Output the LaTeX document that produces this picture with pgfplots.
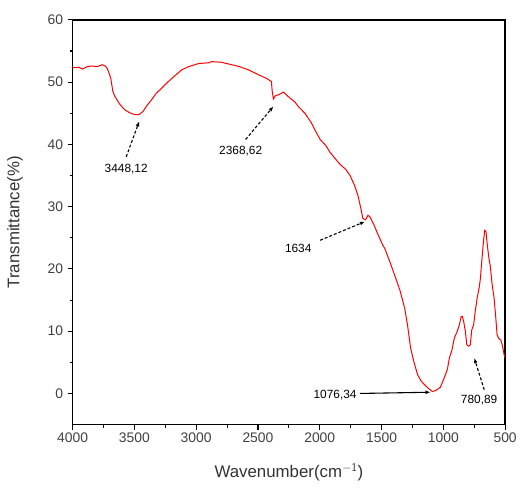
\documentclass[border=0pt]{standalone}
\usepackage{pgfplots}
\pgfplotsset{compat=1.18}
\usepackage{fontspec}
\setmainfont{Liberation Sans}
\usetikzlibrary{arrows.meta}

\pgfplotstableread{
x y
4000 52.3
3950 52.4
3920 52.1
3880 52.5
3850 52.6
3800 52.5
3760 52.8
3735 52.6
3720 52.2
3700 51.2
3690 50.5
3675 48.6
3660 47.8
3620 46.5
3580 45.6
3540 45.1
3500 44.8
3461 44.8
3430 45.3
3400 46.2
3360 47.2
3324 48.2
3280 49.0
3230 50.0
3180 50.9
3115 52.0
3060 52.5
2978 53.0
2900 53.1
2874 53.3
2800 53.2
2713 52.8
2650 52.5
2580 52.0
2496 51.2
2430 50.6
2391 50.1
2385 48.6
2375 47.3
2360 47.8
2330 48.0
2294 48.4
2250 47.6
2200 46.8
2174 46.1
2120 45.0
2069 43.5
2030 42.0
1997 40.8
1950 39.8
1916 38.7
1870 37.6
1836 36.8
1790 36.0
1755 35.0
1720 33.5
1691 31.8
1665 29.5
1651 28.1
1630 27.9
1610 28.6
1595 28.4
1560 27.0
1530 25.6
1490 23.8
1474 23.3
1430 21.0
1394 19.0
1350 16.5
1313 13.7
1290 11.0
1265 7.3
1240 5.2
1208 3.0
1180 2.0
1152 1.4
1120 0.8
1088 0.3
1060 0.5
1024 1.0
991 2.6
967 3.9
951 5.7
930 7.0
911 8.9
887 10.0
871 11.0
855 12.4
846 12.4
835 11.5
822 10.0
810 7.8
795 7.6
782 7.8
770 10.2
755 11.0
742 13.2
725 15.5
710 17.0
700 18.5
690 21.0
675 24.5
665 26.2
655 26.0
645 24.0
630 21.5
621 20.6
605 17.5
589 15.3
575 12.0
565 9.4
550 8.8
535 8.6
520 7.5
508 6.2
500 5.8
}\ftir

\begin{document}
\begin{tikzpicture}
\begin{axis}[
  scale only axis,
  width=435bp, height=407bp,
  x dir=reverse,
  xmin=500, xmax=4000,
  ymin=-5, ymax=60,
  xtick={500,1000,...,4000},
  ytick={0,10,...,60},
  minor x tick num=1,
  minor y tick num=1,
  tick align=outside,
  xtick pos=left, ytick pos=left,
  major tick length=5bp,
  minor tick length=3bp,
  axis line style={line width=1.3bp},
  every tick/.style={black, line width=1.1bp},
  /pgf/number format/1000 sep={},
  /pgf/number format/assume math mode=true,
  ticklabel style={font=\fontsize{14}{14}\selectfont, text=black!75},
  yticklabel style={xshift=-1bp},
  xlabel={Wavenumber(cm$^{\mathsf{-1}}$)},
  ylabel={Transmittance(\%)},
  label style={font=\fontsize{17}{17}\selectfont, text=black!80},
  xlabel style={at={(axis description cs:0.5,-0.118)}, anchor=center},
  ylabel style={at={(axis description cs:-0.133,0.5)}, anchor=center},
]
\addplot[red, line width=1bp] table[x=x, y=y] {\ftir};

\tikzset{ann/.style={font=\fontsize{12}{12}\selectfont, text=black},
         arr/.style={-{Latex[length=5bp,width=4bp]}, line width=1.1bp, black}}
\node[ann] at (axis cs:3566,36.0) {3448,12};
\draw[arr, densely dashed] (axis cs:3566,38.0) -- (axis cs:3461,43.7);
\node[ann] at (axis cs:2640,38.9) {2368,62};
\draw[arr, densely dashed] (axis cs:2600,40.8) -- (axis cs:2375,46.1);
\node[ann] at (axis cs:2174,23.3) {1634};
\draw[arr, densely dashed] (axis cs:1997,24.6) -- (axis cs:1635,27.6);
\node[ann] at (axis cs:1876,-0.2) {1076,34};
\draw[arr] (axis cs:1675,0) -- (axis cs:1104,0.2);
\node[ann] at (axis cs:710,-1.1) {780,89};
\draw[arr, densely dashed] (axis cs:669,0.6) -- (axis cs:750,5.7);
\end{axis}
\path (current axis.south west) ++(-73bp,-67bp) coordinate (bbl);
\path (current axis.north east) ++(12bp,20bp) coordinate (btr);
\path (bbl) rectangle (btr);
\end{tikzpicture}
\end{document}
